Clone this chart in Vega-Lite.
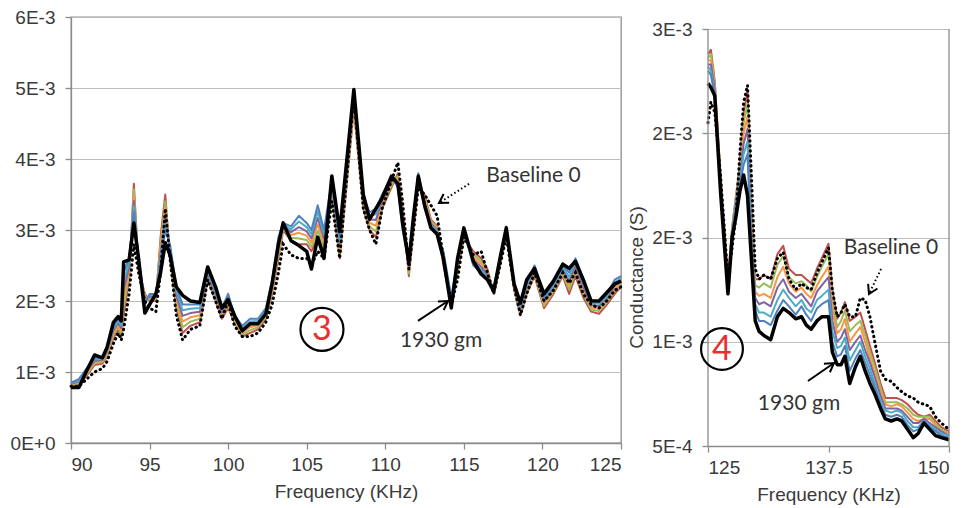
{
"$schema":"https://vega.github.io/schema/vega-lite/v6.json",
"background":"white",
"padding":{"left":9,"top":7,"right":5,"bottom":5},
"bounds":"flush",
"spacing":87,
"config":{
 "font":"Liberation Sans",
 "view":{"stroke":"#8C8C8C","strokeWidth":1.3},
 "axis":{"labelFont":"Liberation Sans","titleFont":"Liberation Sans","labelFontSize":19,"labelColor":"#3A3A3A","titleFontSize":19,"titleColor":"#3A3A3A","titleFontWeight":"normal","domainColor":"#8C8C8C","domainWidth":1.3,"tickColor":"#8C8C8C","tickSize":6,"tickWidth":1.3,"gridColor":"#BDBDBD","gridWidth":1.2,"labelPadding":8,"titlePadding":8}
},
"datasets":{
"left":[
{"f":90,"B":0.80e-3,"r":0.80e-3,"g":0.81e-3,"o":0.82e-3,"p":0.83e-3,"c":0.84e-3,"u":0.85e-3,"K":0.78e-3},
{"f":90.5,"B":0.80e-3,"r":0.82e-3,"g":0.84e-3,"o":0.85e-3,"p":0.87e-3,"c":0.88e-3,"u":0.90e-3,"K":0.78e-3},
{"f":91,"B":0.90e-3,"r":0.95e-3,"g":0.97e-3,"o":0.99e-3,"p":1.01e-3,"c":1.03e-3,"u":1.05e-3,"K":1.02e-3},
{"f":91.5,"B":1.00e-3,"r":1.10e-3,"g":1.12e-3,"o":1.14e-3,"p":1.16e-3,"c":1.18e-3,"u":1.20e-3,"K":1.24e-3},
{"f":92,"B":1.05e-3,"r":1.12e-3,"g":1.14e-3,"o":1.15e-3,"p":1.17e-3,"c":1.18e-3,"u":1.20e-3,"K":1.20e-3},
{"f":92.3,"B":1.15e-3,"r":1.22e-3,"g":1.24e-3,"o":1.26e-3,"p":1.29e-3,"c":1.31e-3,"u":1.33e-3,"K":1.35e-3},
{"f":92.7,"B":1.40e-3,"r":1.48e-3,"g":1.52e-3,"o":1.55e-3,"p":1.59e-3,"c":1.62e-3,"u":1.66e-3,"K":1.70e-3},
{"f":93,"B":1.55e-3,"r":1.60e-3,"g":1.63e-3,"o":1.66e-3,"p":1.69e-3,"c":1.72e-3,"u":1.75e-3,"K":1.78e-3},
{"f":93.2,"B":1.45e-3,"r":1.50e-3,"g":1.54e-3,"o":1.58e-3,"p":1.62e-3,"c":1.66e-3,"u":1.70e-3,"K":1.72e-3},
{"f":93.35,"B":1.60e-3,"r":1.80e-3,"g":1.92e-3,"o":2.04e-3,"p":2.16e-3,"c":2.28e-3,"u":2.40e-3,"K":2.55e-3},
{"f":93.7,"B":2.10e-3,"r":2.30e-3,"g":2.36e-3,"o":2.42e-3,"p":2.48e-3,"c":2.54e-3,"u":2.60e-3,"K":2.58e-3},
{"f":94,"B":2.80e-3,"r":3.65e-3,"g":3.57e-3,"o":3.49e-3,"p":3.41e-3,"c":3.33e-3,"u":3.25e-3,"K":3.10e-3},
{"f":94.3,"B":2.40e-3,"r":2.45e-3,"g":2.48e-3,"o":2.51e-3,"p":2.54e-3,"c":2.57e-3,"u":2.60e-3,"K":2.60e-3},
{"f":94.7,"B":2.00e-3,"r":2.10e-3,"g":2.07e-3,"o":2.04e-3,"p":2.01e-3,"c":1.98e-3,"u":1.95e-3,"K":1.83e-3},
{"f":95,"B":1.90e-3,"r":2.00e-3,"g":2.02e-3,"o":2.04e-3,"p":2.06e-3,"c":2.08e-3,"u":2.10e-3,"K":1.95e-3},
{"f":95.4,"B":1.85e-3,"r":2.00e-3,"g":2.02e-3,"o":2.04e-3,"p":2.06e-3,"c":2.08e-3,"u":2.10e-3,"K":2.10e-3},
{"f":95.7,"B":2.40e-3,"r":2.90e-3,"g":2.82e-3,"o":2.74e-3,"p":2.66e-3,"c":2.58e-3,"u":2.50e-3,"K":2.40e-3},
{"f":96,"B":3.30e-3,"r":3.50e-3,"g":3.40e-3,"o":3.30e-3,"p":3.20e-3,"c":3.10e-3,"u":3.00e-3,"K":2.82e-3},
{"f":96.3,"B":2.60e-3,"r":2.60e-3,"g":2.64e-3,"o":2.68e-3,"p":2.72e-3,"c":2.76e-3,"u":2.80e-3,"K":2.65e-3},
{"f":96.7,"B":1.80e-3,"r":1.90e-3,"g":1.96e-3,"o":2.02e-3,"p":2.08e-3,"c":2.14e-3,"u":2.20e-3,"K":2.20e-3},
{"f":97.1,"B":1.45e-3,"r":1.55e-3,"g":1.63e-3,"o":1.71e-3,"p":1.79e-3,"c":1.87e-3,"u":1.95e-3,"K":2.08e-3},
{"f":97.6,"B":1.60e-3,"r":1.65e-3,"g":1.71e-3,"o":1.77e-3,"p":1.83e-3,"c":1.89e-3,"u":1.95e-3,"K":2.00e-3},
{"f":98.2,"B":1.65e-3,"r":1.70e-3,"g":1.75e-3,"o":1.80e-3,"p":1.85e-3,"c":1.90e-3,"u":1.95e-3,"K":1.98e-3},
{"f":98.7,"B":2.30e-3,"r":2.30e-3,"g":2.33e-3,"o":2.36e-3,"p":2.39e-3,"c":2.42e-3,"u":2.45e-3,"K":2.48e-3},
{"f":99.2,"B":2.00e-3,"r":2.00e-3,"g":2.03e-3,"o":2.06e-3,"p":2.09e-3,"c":2.12e-3,"u":2.15e-3,"K":2.20e-3},
{"f":99.6,"B":1.75e-3,"r":1.75e-3,"g":1.78e-3,"o":1.81e-3,"p":1.84e-3,"c":1.87e-3,"u":1.90e-3,"K":1.90e-3},
{"f":100,"B":2.00e-3,"r":1.90e-3,"g":1.94e-3,"o":1.98e-3,"p":2.02e-3,"c":2.06e-3,"u":2.10e-3,"K":2.02e-3},
{"f":100.4,"B":1.65e-3,"r":1.70e-3,"g":1.72e-3,"o":1.74e-3,"p":1.76e-3,"c":1.78e-3,"u":1.80e-3,"K":1.80e-3},
{"f":100.9,"B":1.50e-3,"r":1.50e-3,"g":1.53e-3,"o":1.56e-3,"p":1.59e-3,"c":1.62e-3,"u":1.65e-3,"K":1.58e-3},
{"f":101.4,"B":1.50e-3,"r":1.55e-3,"g":1.59e-3,"o":1.63e-3,"p":1.67e-3,"c":1.71e-3,"u":1.75e-3,"K":1.68e-3},
{"f":101.9,"B":1.55e-3,"r":1.60e-3,"g":1.63e-3,"o":1.66e-3,"p":1.69e-3,"c":1.72e-3,"u":1.75e-3,"K":1.68e-3},
{"f":102.4,"B":1.70e-3,"r":1.75e-3,"g":1.78e-3,"o":1.81e-3,"p":1.84e-3,"c":1.87e-3,"u":1.90e-3,"K":1.82e-3},
{"f":102.8,"B":1.95e-3,"r":2.10e-3,"g":2.14e-3,"o":2.18e-3,"p":2.22e-3,"c":2.26e-3,"u":2.30e-3,"K":2.25e-3},
{"f":103.2,"B":2.40e-3,"r":2.60e-3,"g":2.66e-3,"o":2.72e-3,"p":2.78e-3,"c":2.84e-3,"u":2.90e-3,"K":2.80e-3},
{"f":103.5,"B":2.80e-3,"r":3.00e-3,"g":3.02e-3,"o":3.04e-3,"p":3.06e-3,"c":3.08e-3,"u":3.10e-3,"K":3.10e-3},
{"f":104,"B":2.65e-3,"r":2.85e-3,"g":2.89e-3,"o":2.93e-3,"p":2.97e-3,"c":3.01e-3,"u":3.05e-3,"K":2.85e-3},
{"f":104.5,"B":2.60e-3,"r":2.80e-3,"g":2.88e-3,"o":2.96e-3,"p":3.04e-3,"c":3.12e-3,"u":3.20e-3,"K":2.78e-3},
{"f":105,"B":2.60e-3,"r":2.80e-3,"g":2.86e-3,"o":2.92e-3,"p":2.98e-3,"c":3.04e-3,"u":3.10e-3,"K":2.70e-3},
{"f":105.3,"B":2.50e-3,"r":2.70e-3,"g":2.76e-3,"o":2.82e-3,"p":2.88e-3,"c":2.94e-3,"u":3.00e-3,"K":2.45e-3},
{"f":105.7,"B":2.70e-3,"r":2.90e-3,"g":2.99e-3,"o":3.08e-3,"p":3.17e-3,"c":3.26e-3,"u":3.35e-3,"K":2.90e-3},
{"f":106.1,"B":2.60e-3,"r":2.70e-3,"g":2.76e-3,"o":2.82e-3,"p":2.88e-3,"c":2.94e-3,"u":3.00e-3,"K":2.60e-3},
{"f":106.6,"B":3.40e-3,"r":3.50e-3,"g":3.54e-3,"o":3.58e-3,"p":3.62e-3,"c":3.66e-3,"u":3.70e-3,"K":3.76e-3},
{"f":107.1,"B":2.60e-3,"r":2.60e-3,"g":2.66e-3,"o":2.72e-3,"p":2.78e-3,"c":2.84e-3,"u":2.90e-3,"K":2.98e-3},
{"f":108,"B":4.90e-3,"r":4.70e-3,"g":4.75e-3,"o":4.80e-3,"p":4.85e-3,"c":4.90e-3,"u":4.95e-3,"K":4.98e-3},
{"f":108.6,"B":3.30e-3,"r":3.30e-3,"g":3.34e-3,"o":3.38e-3,"p":3.42e-3,"c":3.46e-3,"u":3.50e-3,"K":3.50e-3},
{"f":109,"B":3.00e-3,"r":3.00e-3,"g":3.05e-3,"o":3.10e-3,"p":3.15e-3,"c":3.20e-3,"u":3.25e-3,"K":3.15e-3},
{"f":109.4,"B":2.80e-3,"r":2.90e-3,"g":2.98e-3,"o":3.06e-3,"p":3.14e-3,"c":3.22e-3,"u":3.30e-3,"K":3.30e-3},
{"f":109.8,"B":3.30e-3,"r":3.30e-3,"g":3.34e-3,"o":3.38e-3,"p":3.42e-3,"c":3.46e-3,"u":3.50e-3,"K":3.45e-3},
{"f":110.4,"B":3.70e-3,"r":3.60e-3,"g":3.63e-3,"o":3.66e-3,"p":3.69e-3,"c":3.72e-3,"u":3.75e-3,"K":3.76e-3},
{"f":110.8,"B":3.95e-3,"r":3.80e-3,"g":3.76e-3,"o":3.72e-3,"p":3.68e-3,"c":3.64e-3,"u":3.60e-3,"K":3.65e-3},
{"f":111.1,"B":3.40e-3,"r":3.30e-3,"g":3.24e-3,"o":3.18e-3,"p":3.12e-3,"c":3.06e-3,"u":3.00e-3,"K":3.10e-3},
{"f":111.5,"B":2.45e-3,"r":2.35e-3,"g":2.39e-3,"o":2.43e-3,"p":2.47e-3,"c":2.51e-3,"u":2.55e-3,"K":2.55e-3},
{"f":111.8,"B":3.00e-3,"r":3.00e-3,"g":3.04e-3,"o":3.08e-3,"p":3.12e-3,"c":3.16e-3,"u":3.20e-3,"K":3.20e-3},
{"f":112.1,"B":3.60e-3,"r":3.60e-3,"g":3.64e-3,"o":3.68e-3,"p":3.72e-3,"c":3.76e-3,"u":3.80e-3,"K":3.76e-3},
{"f":112.5,"B":3.50e-3,"r":3.50e-3,"g":3.46e-3,"o":3.42e-3,"p":3.38e-3,"c":3.34e-3,"u":3.30e-3,"K":3.35e-3},
{"f":112.9,"B":3.35e-3,"r":3.15e-3,"g":3.13e-3,"o":3.11e-3,"p":3.09e-3,"c":3.07e-3,"u":3.05e-3,"K":3.03e-3},
{"f":113.3,"B":3.20e-3,"r":3.05e-3,"g":3.03e-3,"o":3.01e-3,"p":2.99e-3,"c":2.97e-3,"u":2.95e-3,"K":2.94e-3},
{"f":113.7,"B":2.60e-3,"r":2.50e-3,"g":2.54e-3,"o":2.58e-3,"p":2.62e-3,"c":2.66e-3,"u":2.70e-3,"K":2.60e-3},
{"f":114.2,"B":1.95e-3,"r":1.95e-3,"g":1.97e-3,"o":1.99e-3,"p":2.01e-3,"c":2.03e-3,"u":2.05e-3,"K":1.90e-3},
{"f":114.6,"B":2.30e-3,"r":2.40e-3,"g":2.44e-3,"o":2.48e-3,"p":2.52e-3,"c":2.56e-3,"u":2.60e-3,"K":2.60e-3},
{"f":115,"B":2.90e-3,"r":2.90e-3,"g":2.92e-3,"o":2.94e-3,"p":2.96e-3,"c":2.98e-3,"u":3.00e-3,"K":3.03e-3},
{"f":115.6,"B":2.65e-3,"r":2.70e-3,"g":2.66e-3,"o":2.62e-3,"p":2.58e-3,"c":2.54e-3,"u":2.50e-3,"K":2.56e-3},
{"f":116.1,"B":2.70e-3,"r":2.60e-3,"g":2.56e-3,"o":2.52e-3,"p":2.48e-3,"c":2.44e-3,"u":2.40e-3,"K":2.38e-3},
{"f":116.5,"B":2.40e-3,"r":2.45e-3,"g":2.42e-3,"o":2.39e-3,"p":2.36e-3,"c":2.33e-3,"u":2.30e-3,"K":2.30e-3},
{"f":116.9,"B":2.10e-3,"r":2.10e-3,"g":2.12e-3,"o":2.14e-3,"p":2.16e-3,"c":2.18e-3,"u":2.20e-3,"K":2.14e-3},
{"f":117.3,"B":2.50e-3,"r":2.50e-3,"g":2.52e-3,"o":2.54e-3,"p":2.56e-3,"c":2.58e-3,"u":2.60e-3,"K":2.60e-3},
{"f":117.7,"B":2.90e-3,"r":2.95e-3,"g":2.97e-3,"o":2.99e-3,"p":3.01e-3,"c":3.03e-3,"u":3.05e-3,"K":3.03e-3},
{"f":118.2,"B":2.20e-3,"r":2.15e-3,"g":2.17e-3,"o":2.19e-3,"p":2.21e-3,"c":2.23e-3,"u":2.25e-3,"K":2.24e-3},
{"f":118.6,"B":1.80e-3,"r":1.80e-3,"g":1.83e-3,"o":1.86e-3,"p":1.89e-3,"c":1.92e-3,"u":1.95e-3,"K":1.97e-3},
{"f":119,"B":2.10e-3,"r":2.10e-3,"g":2.13e-3,"o":2.16e-3,"p":2.19e-3,"c":2.22e-3,"u":2.25e-3,"K":2.30e-3},
{"f":119.5,"B":2.40e-3,"r":2.35e-3,"g":2.38e-3,"o":2.41e-3,"p":2.44e-3,"c":2.47e-3,"u":2.50e-3,"K":2.46e-3},
{"f":120.1,"B":2.00e-3,"r":1.90e-3,"g":1.93e-3,"o":1.96e-3,"p":1.99e-3,"c":2.02e-3,"u":2.05e-3,"K":2.10e-3},
{"f":120.7,"B":2.15e-3,"r":2.10e-3,"g":2.13e-3,"o":2.16e-3,"p":2.19e-3,"c":2.22e-3,"u":2.25e-3,"K":2.28e-3},
{"f":121.3,"B":2.40e-3,"r":2.35e-3,"g":2.38e-3,"o":2.41e-3,"p":2.44e-3,"c":2.47e-3,"u":2.50e-3,"K":2.52e-3},
{"f":121.7,"B":2.25e-3,"r":2.10e-3,"g":2.16e-3,"o":2.22e-3,"p":2.28e-3,"c":2.34e-3,"u":2.40e-3,"K":2.46e-3},
{"f":122.1,"B":2.40e-3,"r":2.35e-3,"g":2.40e-3,"o":2.45e-3,"p":2.50e-3,"c":2.55e-3,"u":2.60e-3,"K":2.56e-3},
{"f":122.6,"B":2.10e-3,"r":2.05e-3,"g":2.10e-3,"o":2.15e-3,"p":2.20e-3,"c":2.25e-3,"u":2.30e-3,"K":2.30e-3},
{"f":123.1,"B":1.95e-3,"r":1.85e-3,"g":1.88e-3,"o":1.91e-3,"p":1.94e-3,"c":1.97e-3,"u":2.00e-3,"K":2.00e-3},
{"f":123.6,"B":1.90e-3,"r":1.82e-3,"g":1.86e-3,"o":1.89e-3,"p":1.93e-3,"c":1.96e-3,"u":2.00e-3,"K":2.00e-3},
{"f":124.1,"B":2.00e-3,"r":1.95e-3,"g":1.98e-3,"o":2.01e-3,"p":2.04e-3,"c":2.07e-3,"u":2.10e-3,"K":2.12e-3},
{"f":124.6,"B":2.15e-3,"r":2.10e-3,"g":2.14e-3,"o":2.18e-3,"p":2.22e-3,"c":2.26e-3,"u":2.30e-3,"K":2.24e-3},
{"f":125,"B":2.20e-3,"r":2.20e-3,"g":2.23e-3,"o":2.26e-3,"p":2.29e-3,"c":2.32e-3,"u":2.35e-3,"K":2.28e-3}
],
"right":[
{"f":125,"B":2.05e-3,"r":2.38e-3,"g":2.36e-3,"o":2.35e-3,"p":2.33e-3,"c":2.32e-3,"u":2.30e-3,"K":2.24e-3},
{"f":125.3,"B":2.15e-3,"r":2.40e-3,"g":2.38e-3,"o":2.35e-3,"p":2.33e-3,"c":2.30e-3,"u":2.28e-3,"K":2.22e-3},
{"f":125.7,"B":2.10e-3,"r":2.25e-3,"g":2.24e-3,"o":2.22e-3,"p":2.21e-3,"c":2.19e-3,"u":2.18e-3,"K":2.18e-3},
{"f":126.3,"B":1.80e-3,"r":1.80e-3,"g":1.79e-3,"o":1.78e-3,"p":1.77e-3,"c":1.76e-3,"u":1.75e-3,"K":1.72e-3},
{"f":127.07,"B":1.30e-3,"r":1.30e-3,"g":1.29e-3,"o":1.28e-3,"p":1.27e-3,"c":1.26e-3,"u":1.25e-3,"K":1.23e-3},
{"f":127.5,"B":1.45e-3,"r":1.55e-3,"g":1.54e-3,"o":1.53e-3,"p":1.52e-3,"c":1.51e-3,"u":1.50e-3,"K":1.50e-3},
{"f":127.9,"B":1.60e-3,"r":1.70e-3,"g":1.69e-3,"o":1.68e-3,"p":1.67e-3,"c":1.66e-3,"u":1.65e-3,"K":1.60e-3},
{"f":128.3,"B":1.90e-3,"r":1.85e-3,"g":1.83e-3,"o":1.81e-3,"p":1.79e-3,"c":1.77e-3,"u":1.75e-3,"K":1.72e-3},
{"f":128.7,"B":2.15e-3,"r":2.10e-3,"g":2.05e-3,"o":2.00e-3,"p":1.95e-3,"c":1.90e-3,"u":1.85e-3,"K":1.80e-3},
{"f":129.1,"B":2.23e-3,"r":2.20e-3,"g":2.14e-3,"o":2.08e-3,"p":2.02e-3,"c":1.96e-3,"u":1.90e-3,"K":1.70e-3},
{"f":129.5,"B":1.80e-3,"r":1.65e-3,"g":1.61e-3,"o":1.57e-3,"p":1.53e-3,"c":1.49e-3,"u":1.45e-3,"K":1.40e-3},
{"f":129.9,"B":1.35e-3,"r":1.30e-3,"g":1.27e-3,"o":1.24e-3,"p":1.21e-3,"c":1.18e-3,"u":1.15e-3,"K":1.10e-3},
{"f":130.3,"B":1.30e-3,"r":1.30e-3,"g":1.26e-3,"o":1.22e-3,"p":1.18e-3,"c":1.14e-3,"u":1.10e-3,"K":1.05e-3},
{"f":130.8,"B":1.32e-3,"r":1.32e-3,"g":1.28e-3,"o":1.23e-3,"p":1.19e-3,"c":1.14e-3,"u":1.10e-3,"K":1.03e-3},
{"f":131.5,"B":1.30e-3,"r":1.30e-3,"g":1.26e-3,"o":1.21e-3,"p":1.17e-3,"c":1.12e-3,"u":1.08e-3,"K":1.01e-3},
{"f":132.2,"B":1.40e-3,"r":1.42e-3,"g":1.37e-3,"o":1.31e-3,"p":1.26e-3,"c":1.20e-3,"u":1.15e-3,"K":1.12e-3},
{"f":132.8,"B":1.43e-3,"r":1.46e-3,"g":1.41e-3,"o":1.36e-3,"p":1.30e-3,"c":1.25e-3,"u":1.20e-3,"K":1.16e-3},
{"f":133.4,"B":1.30e-3,"r":1.35e-3,"g":1.31e-3,"o":1.28e-3,"p":1.24e-3,"c":1.21e-3,"u":1.17e-3,"K":1.14e-3},
{"f":134.1,"B":1.25e-3,"r":1.32e-3,"g":1.28e-3,"o":1.24e-3,"p":1.21e-3,"c":1.17e-3,"u":1.13e-3,"K":1.11e-3},
{"f":134.7,"B":1.28e-3,"r":1.32e-3,"g":1.29e-3,"o":1.26e-3,"p":1.23e-3,"c":1.20e-3,"u":1.17e-3,"K":1.12e-3},
{"f":135.2,"B":1.26e-3,"r":1.30e-3,"g":1.27e-3,"o":1.23e-3,"p":1.20e-3,"c":1.16e-3,"u":1.13e-3,"K":1.08e-3},
{"f":135.7,"B":1.25e-3,"r":1.28e-3,"g":1.24e-3,"o":1.21e-3,"p":1.17e-3,"c":1.14e-3,"u":1.10e-3,"K":1.06e-3},
{"f":136.3,"B":1.33e-3,"r":1.35e-3,"g":1.31e-3,"o":1.27e-3,"p":1.24e-3,"c":1.20e-3,"u":1.16e-3,"K":1.10e-3},
{"f":136.8,"B":1.38e-3,"r":1.40e-3,"g":1.36e-3,"o":1.31e-3,"p":1.27e-3,"c":1.22e-3,"u":1.18e-3,"K":1.12e-3},
{"f":137.5,"B":1.45e-3,"r":1.47e-3,"g":1.42e-3,"o":1.36e-3,"p":1.31e-3,"c":1.25e-3,"u":1.20e-3,"K":1.12e-3},
{"f":137.9,"B":1.25e-3,"r":1.25e-3,"g":1.20e-3,"o":1.15e-3,"p":1.10e-3,"c":1.05e-3,"u":1.00e-3,"K":0.95e-3},
{"f":138.4,"B":1.12e-3,"r":1.11e-3,"g":1.07e-3,"o":1.04e-3,"p":1.00e-3,"c":0.97e-3,"u":0.93e-3,"K":0.89e-3},
{"f":138.8,"B":1.14e-3,"r":1.14e-3,"g":1.10e-3,"o":1.06e-3,"p":1.02e-3,"c":0.98e-3,"u":0.94e-3,"K":0.89e-3},
{"f":139.2,"B":1.18e-3,"r":1.19e-3,"g":1.15e-3,"o":1.11e-3,"p":1.06e-3,"c":1.02e-3,"u":0.98e-3,"K":0.93e-3},
{"f":139.7,"B":1.12e-3,"r":1.10e-3,"g":1.05e-3,"o":1.00e-3,"p":0.96e-3,"c":0.91e-3,"u":0.86e-3,"K":0.80e-3},
{"f":140.3,"B":1.12e-3,"r":1.12e-3,"g":1.08e-3,"o":1.04e-3,"p":1.00e-3,"c":0.96e-3,"u":0.92e-3,"K":0.88e-3},
{"f":140.8,"B":1.21e-3,"r":1.14e-3,"g":1.10e-3,"o":1.07e-3,"p":1.03e-3,"c":1.00e-3,"u":0.96e-3,"K":0.93e-3},
{"f":141.3,"B":1.20e-3,"r":1.06e-3,"g":1.03e-3,"o":1.00e-3,"p":0.96e-3,"c":0.93e-3,"u":0.90e-3,"K":0.86e-3},
{"f":141.8,"B":1.12e-3,"r":0.98e-3,"g":0.95e-3,"o":0.92e-3,"p":0.90e-3,"c":0.87e-3,"u":0.84e-3,"K":0.80e-3},
{"f":142.3,"B":1.00e-3,"r":0.90e-3,"g":0.88e-3,"o":0.85e-3,"p":0.83e-3,"c":0.80e-3,"u":0.78e-3,"K":0.75e-3},
{"f":142.9,"B":0.86e-3,"r":0.80e-3,"g":0.78e-3,"o":0.76e-3,"p":0.74e-3,"c":0.72e-3,"u":0.70e-3,"K":0.68e-3},
{"f":143.4,"B":0.82e-3,"r":0.73e-3,"g":0.71e-3,"o":0.70e-3,"p":0.68e-3,"c":0.67e-3,"u":0.65e-3,"K":0.63e-3},
{"f":144,"B":0.81e-3,"r":0.73e-3,"g":0.71e-3,"o":0.69e-3,"p":0.68e-3,"c":0.66e-3,"u":0.64e-3,"K":0.62e-3},
{"f":144.6,"B":0.78e-3,"r":0.73e-3,"g":0.71e-3,"o":0.70e-3,"p":0.68e-3,"c":0.67e-3,"u":0.65e-3,"K":0.63e-3},
{"f":145.1,"B":0.76e-3,"r":0.72e-3,"g":0.70e-3,"o":0.69e-3,"p":0.67e-3,"c":0.66e-3,"u":0.64e-3,"K":0.62e-3},
{"f":145.7,"B":0.74e-3,"r":0.70e-3,"g":0.68e-3,"o":0.66e-3,"p":0.64e-3,"c":0.62e-3,"u":0.60e-3,"K":0.58e-3},
{"f":146.3,"B":0.73e-3,"r":0.67e-3,"g":0.65e-3,"o":0.63e-3,"p":0.61e-3,"c":0.59e-3,"u":0.57e-3,"K":0.54e-3},
{"f":146.8,"B":0.71e-3,"r":0.65e-3,"g":0.64e-3,"o":0.62e-3,"p":0.61e-3,"c":0.59e-3,"u":0.58e-3,"K":0.56e-3},
{"f":147.4,"B":0.70e-3,"r":0.64e-3,"g":0.64e-3,"o":0.63e-3,"p":0.63e-3,"c":0.62e-3,"u":0.62e-3,"K":0.61e-3},
{"f":148,"B":0.69e-3,"r":0.65e-3,"g":0.64e-3,"o":0.63e-3,"p":0.61e-3,"c":0.60e-3,"u":0.59e-3,"K":0.58e-3},
{"f":148.6,"B":0.64e-3,"r":0.62e-3,"g":0.61e-3,"o":0.60e-3,"p":0.59e-3,"c":0.58e-3,"u":0.57e-3,"K":0.55e-3},
{"f":149.2,"B":0.61e-3,"r":0.59e-3,"g":0.58e-3,"o":0.57e-3,"p":0.57e-3,"c":0.56e-3,"u":0.55e-3,"K":0.54e-3},
{"f":150,"B":0.58e-3,"r":0.57e-3,"g":0.56e-3,"o":0.56e-3,"p":0.55e-3,"c":0.55e-3,"u":0.54e-3,"K":0.53e-3}
]
},
"hconcat":[
{
 "width":550,"height":426,
 "encoding":{
  "x":{"field":"f","type":"quantitative","scale":{"domain":[90,125],"nice":false,"zero":false},"axis":{"values":[90,95,100,105,110,115,120,125],"title":"Frequency (KHz)","grid":false,"labelPadding":6}},
  "y":{"field":"v","type":"quantitative","scale":{"domain":[0,0.006],"nice":false},"axis":{"values":[0,0.001,0.002,0.003,0.004,0.005,0.006],"labelExpr":"upper(format(datum.value,'.0e'))","title":null,"grid":true,"labelPadding":10}}
 },
 "layer":[
  {"data":{"name":"left"},"transform":[{"fold":["r","g","o","p","c","u"],"as":["s","v"]}],
   "mark":{"type":"line","strokeWidth":2,"strokeJoin":"round"},
   "encoding":{"color":{"field":"s","type":"nominal","scale":{"domain":["r","g","o","p","c","u"],"range":["#C0504D","#9BBB59","#F79646","#8064A2","#4BACC6","#4F81BD"]},"legend":null}}},
  {"data":{"name":"left"},"transform":[{"fold":["B"],"as":["s","v"]}],
   "mark":{"type":"line","color":"#000000","strokeWidth":3,"strokeDash":[0.5,4.5],"strokeCap":"round"}},
  {"data":{"name":"left"},"transform":[{"fold":["K"],"as":["s","v"]}],
   "mark":{"type":"line","color":"#000000","strokeWidth":3.5,"strokeJoin":"round"}},
  {"data":{"values":[{"f":115.33,"v":0.00365,"f2":113.42,"v2":0.00338}]},
   "mark":{"type":"rule","color":"#000000","strokeWidth":2,"strokeDash":[1.5,2.5]},
   "encoding":{"x2":{"field":"f2"},"y2":{"field":"v2"}}},
  {"data":{"values":[{"f":112.08,"v":0.00172,"f2":113.99,"v2":0.0020}]},
   "mark":{"type":"rule","color":"#000000","strokeWidth":2},
   "encoding":{"x2":{"field":"f2"},"y2":{"field":"v2"}}},
  {"data":{"values":[{"f":113.42,"v":0.00338}]},
   "mark":{"type":"point","shape":"M-0.6,1L0,0L0.6,1","size":300,"angle":238,"filled":false,"stroke":"#000000","strokeWidth":2,"opacity":1}},
  {"data":{"values":[{"f":113.99,"v":0.0020}]},
   "mark":{"type":"point","shape":"M-0.6,1L0,0L0.6,1","size":300,"angle":56,"filled":false,"stroke":"#000000","strokeWidth":2,"opacity":1}},
  {"data":{"values":[{"f":119.43,"v":0.00376,"t":"Baseline 0"},{"f":113.55,"v":0.00144,"t":"1930 gm"}]},
   "mark":{"type":"text","font":"Lato","fontSize":21,"color":"#333333","align":"center","baseline":"middle"},
   "encoding":{"text":{"field":"t"}}},
  {"data":{"values":[{"f":105.97,"v":0.0016,"t":"3"}]},
   "mark":{"type":"point","shape":"circle","size":1850,"filled":false,"stroke":"#000000","strokeWidth":2.2,"opacity":1}},
  {"data":{"values":[{"f":105.97,"v":0.0016,"t":"3"}]},
   "mark":{"type":"text","font":"Lato","fontSize":34,"color":"#E8302F","align":"center","baseline":"middle","dy":1},
   "encoding":{"text":{"field":"t"}}}
 ]
},
{
 "width":241,"height":429,
 "view":{"stroke":null},
 "encoding":{
  "x":{"field":"f","type":"quantitative","scale":{"domain":[125,150],"nice":false,"zero":false},"axis":{"values":[125,137.5,150],"labelExpr":"datum.value == 137.5 ? '137.5' : datum.value == 125 ? '125' : '150'","title":"Frequency (KHz)","grid":false,"labelPadding":6}},
  "y":{"field":"v","type":"quantitative","scale":{"domain":[0.0005,0.0025576],"nice":false,"zero":false},"axis":{"values":[0.0005,0.001,0.0015,0.002,0.0025],"labelExpr":"datum.value < 0.00075 ? '5E-4' : datum.value < 0.00125 ? '1E-3' : datum.value < 0.00225 ? '2E-3' : '3E-3'","title":"Conductance (S)","titleX":-72,"titleY":260,"titleAngle":270,"titleAlign":"center","titleBaseline":"middle","grid":true,"domain":false,"labelPadding":10}}
 },
 "layer":[
  {"data":{"name":"right"},"transform":[{"fold":["r","g","o","p","c","u"],"as":["s","v"]}],
   "mark":{"type":"line","strokeWidth":2,"strokeJoin":"round"},
   "encoding":{"color":{"field":"s","type":"nominal","scale":{"domain":["r","g","o","p","c","u"],"range":["#C0504D","#9BBB59","#F79646","#8064A2","#4BACC6","#4F81BD"]},"legend":null}}},
  {"data":{"name":"right"},"transform":[{"fold":["B"],"as":["s","v"]}],
   "mark":{"type":"line","color":"#000000","strokeWidth":3,"strokeDash":[0.5,4.5],"strokeCap":"round"}},
  {"data":{"name":"right"},"transform":[{"fold":["K"],"as":["s","v"]}],
   "mark":{"type":"line","color":"#000000","strokeWidth":3.5,"strokeJoin":"round"}},
  {"data":{"values":[{"f":125,"v":0.0005,"v2":0.0025},{"f":150,"v":0.0005,"v2":0.0025}]},
   "mark":{"type":"rule","color":"#8C8C8C","strokeWidth":1.3},
   "encoding":{"y2":{"field":"v2"}}},
  {"data":{"values":[{"f":142.95,"v":0.001349,"f2":141.7,"v2":0.001229}]},
   "mark":{"type":"rule","color":"#000000","strokeWidth":2,"strokeDash":[1.5,2.5]},
   "encoding":{"x2":{"field":"f2"},"y2":{"field":"v2"}}},
  {"data":{"values":[{"f":135.37,"v":0.000812,"f2":138.07,"v2":0.000898}]},
   "mark":{"type":"rule","color":"#000000","strokeWidth":2},
   "encoding":{"x2":{"field":"f2"},"y2":{"field":"v2"}}},
  {"data":{"values":[{"f":141.7,"v":0.001229}]},
   "mark":{"type":"point","shape":"M-0.6,1L0,0L0.6,1","size":300,"angle":206,"filled":false,"stroke":"#000000","strokeWidth":2,"opacity":1}},
  {"data":{"values":[{"f":138.07,"v":0.000898}]},
   "mark":{"type":"point","shape":"M-0.6,1L0,0L0.6,1","size":300,"angle":55,"filled":false,"stroke":"#000000","strokeWidth":2,"opacity":1}},
  {"data":{"values":[{"f":143.98,"v":0.00145,"t":"Baseline 0"},{"f":134.44,"v":0.00070,"t":"1930 gm"}]},
   "mark":{"type":"text","font":"Lato","fontSize":21,"color":"#333333","align":"center","baseline":"middle"},
   "encoding":{"text":{"field":"t"}}},
  {"data":{"values":[{"f":126.45,"v":0.000965,"t":"4"}]},
   "mark":{"type":"point","shape":"circle","size":1750,"filled":false,"stroke":"#000000","strokeWidth":2.2,"opacity":1}},
  {"data":{"values":[{"f":126.45,"v":0.000965,"t":"4"}]},
   "mark":{"type":"text","font":"Lato","fontSize":34,"color":"#E8302F","align":"center","baseline":"middle","dy":1},
   "encoding":{"text":{"field":"t"}}}
 ]
}
]
}
